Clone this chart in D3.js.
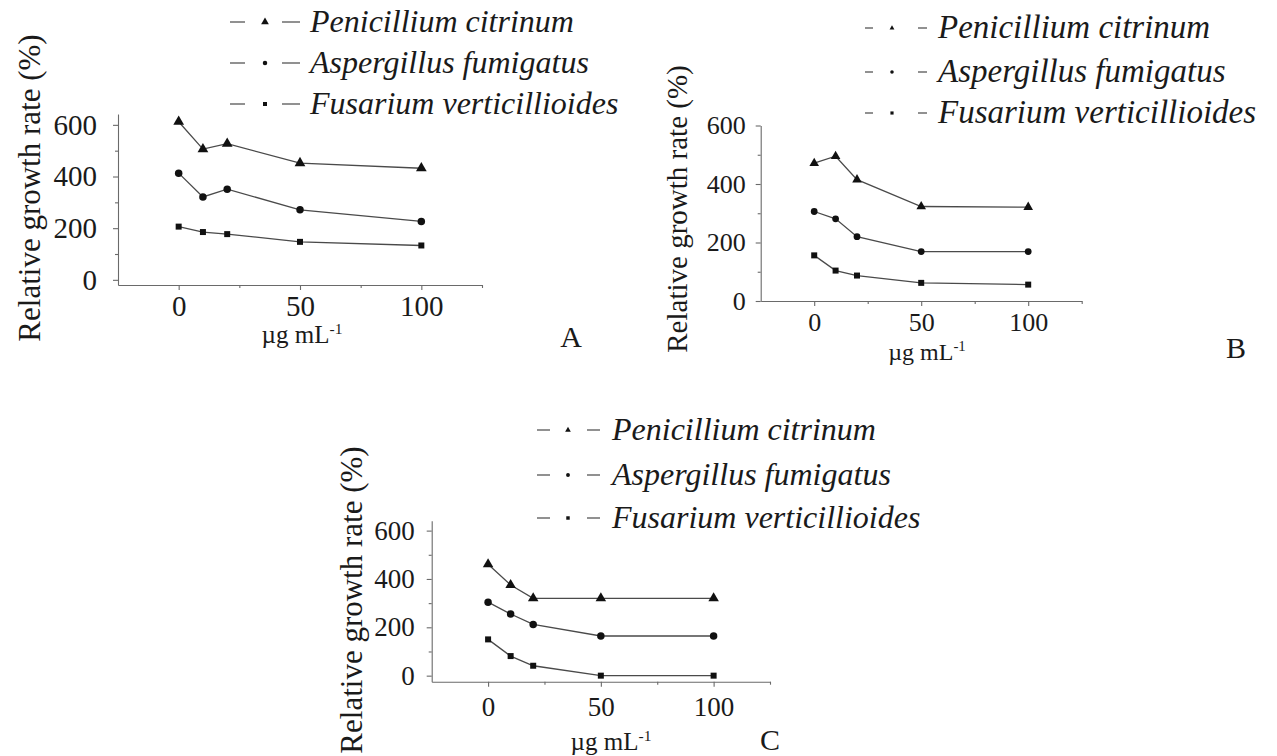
<!DOCTYPE html>
<html>
<head>
<meta charset="utf-8">
<script src="https://cdn.jsdelivr.net/npm/d3@7"></script>
<style>
  html, body { margin: 0; padding: 0; background: #fff; }
  svg { display: block; }
  text { font-family: "Liberation Serif", "Times New Roman", serif; fill: #1a1a1a; }
</style>
</head>
<body>
<svg id="fig" width="1277" height="756"></svg>
<script>
// Concentrations tested (µg mL-1) and the three fungi
const concentrations = [0, 10, 20, 50, 100];
const speciesNames = ["Penicillium citrinum", "Aspergillus fumigatus", "Fusarium verticillioides"];
const markerTypes = ["triangle", "circle", "square"];

// Relative growth rate (%) — panel A
const panelA_penicillium = [612, 506, 527, 452, 432];
const panelA_aspergillus = [413, 321, 351, 271, 226];
const panelA_fusarium    = [206, 185, 177, 147, 133];

// Panel B
const panelB_penicillium = [471, 495, 415, 323, 321];
const panelB_aspergillus = [306, 281, 220, 169, 169];
const panelB_fusarium    = [156, 104, 87, 62, 56];

// Panel C
const panelC_penicillium = [461, 375, 320, 320, 320];
const panelC_aspergillus = [304, 255, 212, 164, 164];
const panelC_fusarium    = [150, 81, 41, 0, 0];

// Axis ticks
const yTickValues = [0, 200, 400, 600];
const yMinorTicks = [100, 300, 500];
const xTickValues = [0, 50, 100];
const xMinorTicks = [25, 75, 125];

const yTitle = "Relative growth rate (%)";

const svg = d3.select("#fig");
const serif = '"Liberation Serif", "Times New Roman", serif';

function symbolFor(type) {
  return type === "triangle" ? d3.symbolTriangle : type === "circle" ? d3.symbolCircle : d3.symbolSquare;
}

function drawPanel(cfg) {
  const x = d3.scaleLinear().domain(cfg.xDomain).range(cfg.xRange);
  const y = d3.scaleLinear().domain(cfg.yDomain).range(cfg.yRange);
  const g = svg.append("g");
  const axisColor = "#6a6a6a";

  // x axis
  const xAxis = g.append("g").attr("transform", `translate(0,${cfg.yRange[0]})`)
    .call(d3.axisBottom(x).tickValues(xTickValues).tickSize(5).tickSizeOuter(0).tickPadding(cfg.xTickPad).tickFormat(d3.format("d")));
  xAxis.attr("font-family", serif);
  xAxis.selectAll("text").style("font-size", cfg.tickFont + "px").attr("fill", "#1a1a1a").style("font-family", serif);
  g.append("g").attr("transform", `translate(0,${cfg.yRange[0]})`)
    .call(d3.axisBottom(x).tickValues(xMinorTicks).tickSize(3).tickSizeOuter(0).tickFormat(""))
    .select(".domain").remove();

  // y axis
  const yAxis = g.append("g").attr("transform", `translate(${cfg.xRange[0]},0)`)
    .call(d3.axisLeft(y).tickValues(yTickValues).tickSize(5).tickSizeOuter(0).tickPadding(cfg.yTickPad).tickFormat(d3.format("d")));
  yAxis.attr("font-family", serif);
  yAxis.selectAll("text").style("font-size", cfg.tickFont + "px").attr("fill", "#1a1a1a").style("font-family", serif);
  g.append("g").attr("transform", `translate(${cfg.xRange[0]},0)`)
    .call(d3.axisLeft(y).tickValues(yMinorTicks).tickSize(3).tickSizeOuter(0).tickFormat(""))
    .select(".domain").remove();

  g.selectAll(".domain, .tick line").attr("stroke", axisColor).attr("stroke-width", 1.1);

  // series
  const line = d3.line().x((d, i) => x(concentrations[i])).y(d => y(d));
  cfg.series.forEach((vals, k) => {
    g.append("path").datum(vals).attr("d", line)
      .attr("fill", "none").attr("stroke", "#4a4a4a").attr("stroke-width", 1.3);
    const sym = d3.symbol().type(symbolFor(markerTypes[k])).size(cfg.markerSize[k]);
    g.selectAll(null).data(vals).join("path")
      .attr("d", sym)
      .attr("transform", (d, i) => `translate(${x(concentrations[i])},${y(d)})`)
      .attr("fill", "#111");
  });

  // y title
  g.append("text")
    .attr("transform", `translate(${cfg.yTitle.x},${cfg.yTitle.y}) rotate(-90)`)
    .attr("text-anchor", "middle")
    .style("font-size", cfg.yTitle.size + "px")
    .text(yTitle);

  // x title with superscript
  const xt = g.append("text")
    .attr("x", cfg.xTitle.x).attr("y", cfg.xTitle.y)
    .attr("text-anchor", "middle")
    .style("font-size", cfg.xTitle.size + "px");
  xt.append("tspan").text("\u00b5g mL");
  xt.append("tspan").attr("dy", -cfg.xTitle.size * 0.38).style("font-size", (cfg.xTitle.size * 0.62) + "px").text("-1");

  // panel letter
  g.append("text").attr("x", cfg.letter.x).attr("y", cfg.letter.y)
    .attr("text-anchor", "middle").style("font-size", cfg.letter.size + "px").text(cfg.letter.text);

  // legend
  const L = cfg.legend;
  speciesNames.forEach((name, k) => {
    const cy = L.rows[k];
    g.append("line").attr("x1", L.d1[0]).attr("x2", L.d1[1]).attr("y1", cy).attr("y2", cy)
      .attr("stroke", "#555").attr("stroke-width", 1.3);
    g.append("line").attr("x1", L.d2[0]).attr("x2", L.d2[1]).attr("y1", cy).attr("y2", cy)
      .attr("stroke", "#555").attr("stroke-width", 1.3);
    g.append("path").attr("d", d3.symbol().type(symbolFor(markerTypes[k])).size(L.markerSize[k]))
      .attr("transform", `translate(${L.mx},${cy})`).attr("fill", "#111");
    g.append("text").attr("x", L.tx).attr("y", cy + L.size * 0.3)
      .style("font-size", L.size + "px").style("font-style", "italic").text(name);
  });
}

drawPanel({
  xDomain: [-25, 125], xRange: [118, 482],
  yDomain: [-20, 642], yRange: [285, 114],
  series: [panelA_penicillium, panelA_aspergillus, panelA_fusarium],
  markerSize: [50, 44, 36],
  tickFont: 29, xTickPad: 5, yTickPad: 16,
  yTitle: { x: 40, y: 188, size: 31 },
  xTitle: { x: 302, y: 343, size: 25 },
  letter: { x: 571, y: 347, text: "A", size: 30 },
  legend: { rows: [22, 63, 104], d1: [230, 245], d2: [282, 300], mx: 265, tx: 310, size: 32, markerSize: [26, 16, 16] }
});

drawPanel({
  xDomain: [-25, 125], xRange: [760.7, 1081.7],
  yDomain: [0, 600], yRange: [301, 125.5],
  series: [panelB_penicillium, panelB_aspergillus, panelB_fusarium],
  markerSize: [40, 36, 36],
  tickFont: 26, xTickPad: 7, yTickPad: 10,
  yTitle: { x: 687, y: 209, size: 29 },
  xTitle: { x: 927, y: 360, size: 24 },
  letter: { x: 1236, y: 358, text: "B", size: 30 },
  legend: { rows: [28, 72, 113], d1: [865, 873], d2: [918, 927], mx: 892, tx: 938, size: 33, markerSize: [10, 10, 10] }
});

drawPanel({
  xDomain: [-25, 125], xRange: [431.7, 770],
  yDomain: [-25, 641], yRange: [681.7, 520.7],
  series: [panelC_penicillium, panelC_aspergillus, panelC_fusarium],
  markerSize: [48, 44, 36],
  tickFont: 27, xTickPad: 10, yTickPad: 12,
  yTitle: { x: 362, y: 600, size: 31 },
  xTitle: { x: 611, y: 750, size: 25 },
  letter: { x: 770, y: 750, text: "C", size: 30 },
  legend: { rows: [430, 475, 518], d1: [537, 550], d2: [587, 600], mx: 568, tx: 612, size: 32, markerSize: [14, 12, 12] }
});
</script>
</body>
</html>
